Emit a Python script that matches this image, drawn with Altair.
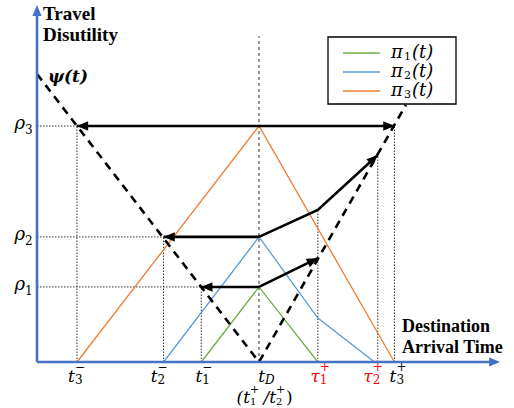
import math
import altair as alt
import pandas as pd

# ---------------- data (chart units) ----------------
tick_vals  = [1.8, 5.7, 7.4, 10.0, 12.65, 15.35, 16.1]     # t3-, t2-, t1-, tD, tau1+, tau2+, t3+
tick_base  = ["t", "t", "t", "t", "τ", "τ", "t"]
tick_sub   = ["3", "2", "1", "D", "1", "2", "3"]
tick_sup   = ["−", "−", "−", "", "+", "+", "+"]
tick_color = ["#000000", "#000000", "#000000", "#000000", "#FF0000", "#FF0000", "#000000"]

rho_sub  = ["1", "2", "3"]
rho_vals = [3.18, 5.3, 10.0]

pi_names = ["π₁(t)", "π₂(t)", "π₃(t)"]
pi_subs  = ["1", "2", "3"]
pi1_t = [7.4, 10.0, 12.65];        pi1_v = [0.0, 3.18, 0.0]
pi2_t = [5.7, 10.0, 12.65, 15.2];  pi2_v = [0.0, 5.3, 1.86, 0.0]
pi3_t = [1.8, 10.0, 16.1];         pi3_v = [0.0, 10.0, 0.0]

psi_t = [0.0, 10.0, 16.62]
psi_v = [12.2, 0.0, 10.9]

# shift arrows
arr_rho3_t  = [1.8, 16.1];          arr_rho3_v  = [10.0, 10.0]
arr_rho2L_t = [10.0, 5.7];          arr_rho2L_v = [5.3, 5.3]
arr_rho2R_t = [10.0, 12.65, 15.35]; arr_rho2R_v = [5.3, 6.44, 8.77]
arr_rho1L_t = [10.0, 7.4];          arr_rho1L_v = [3.18, 3.18]
arr_rho1R_t = [10.0, 12.65];        arr_rho1R_v = [3.18, 4.4]

axis_x_end = 20.86
axis_y_end = 15.13
tD_top = 13.8

# ---------------- layout / style ----------------
W, H = 514, 408
X_DOM = [-1.667, 21.486]
Y_DOM = [-1.949, 15.339]
KX = W / (X_DOM[1] - X_DOM[0])
KY = H / (Y_DOM[1] - Y_DOM[0])

GREEN, BLUE, ORANGE = "#70AD47", "#5B9BD5", "#ED7D31"
AXIS = "#4472C4"
MATH = "DejaVu Serif"
SERIF = "Liberation Serif"
HEAD = "M0,0L-0.42,1L0.42,1Z"

xs = alt.Scale(domain=X_DOM, nice=False, zero=False)
ys = alt.Scale(domain=Y_DOM, nice=False, zero=False)
X = lambda f="t": alt.X(f"{f}:Q", scale=xs, axis=None)
Y = lambda f="v": alt.Y(f"{f}:Q", scale=ys, axis=None)


def ang(t0, v0, t1, v1):
    sx = (t1 - t0) * KX
    sy = -(v1 - v0) * KY
    return math.degrees(math.atan2(sx, -sy)) % 360


# ---------------- guide lines ----------------
guides = pd.DataFrame({
    "t":  [0, 0, 0, tick_vals[0], tick_vals[1], tick_vals[2], tick_vals[4], tick_vals[5], tick_vals[6]],
    "v":  [rho_vals[2], rho_vals[1], rho_vals[0], 0, 0, 0, 0, 0, 0],
    "t2": [tick_vals[0], tick_vals[1], tick_vals[2], tick_vals[0], tick_vals[1], tick_vals[2],
           tick_vals[4], tick_vals[5], tick_vals[6]],
    "v2": [rho_vals[2], rho_vals[1], rho_vals[0], rho_vals[2], rho_vals[1], rho_vals[0],
           arr_rho2R_v[1], arr_rho2R_v[2], rho_vals[2]],
})
guide_layer = alt.Chart(guides).mark_rule(color="#333333", strokeWidth=1, strokeDash=[1.5, 1.5]).encode(
    x=X(), y=Y(), x2="t2:Q", y2="v2:Q")
td_layer = alt.Chart(pd.DataFrame({"t": [tick_vals[3]], "v": [0], "v2": [tD_top]})).mark_rule(
    color="#333333", strokeWidth=1, strokeDash=[3, 3]).encode(x=X(), y=Y(), y2="v2:Q")

# ---------------- pi lines ----------------
rows = []
for name, ts, vs in zip(pi_names, [pi1_t, pi2_t, pi3_t], [pi1_v, pi2_v, pi3_v]):
    for i, (a, b) in enumerate(zip(ts, vs)):
        rows.append({"s": name, "t": a, "v": b, "o": i})
pi_df = pd.DataFrame(rows)
pi_layer = alt.Chart(pi_df).mark_line(strokeWidth=1.3).encode(
    x=X(), y=Y(), order="o:Q",
    color=alt.Color("s:N", scale=alt.Scale(domain=pi_names, range=[GREEN, BLUE, ORANGE]), legend=None))

# ---------------- psi ----------------
psi_df = pd.DataFrame({"t": psi_t, "v": psi_v, "o": list(range(len(psi_t)))})
psi_layer = alt.Chart(psi_df).mark_line(color="black", strokeWidth=2.6, strokeDash=[8, 6]).encode(
    x=X(), y=Y(), order="o:Q")

# ---------------- arrows ----------------
paths = [(arr_rho3_t, arr_rho3_v), (arr_rho2L_t, arr_rho2L_v), (arr_rho2R_t, arr_rho2R_v),
         (arr_rho1L_t, arr_rho1L_v), (arr_rho1R_t, arr_rho1R_v)]
rows, heads = [], []
for k, (ts, vs) in enumerate(paths):
    for i, (a, b) in enumerate(zip(ts, vs)):
        rows.append({"p": k, "t": a, "v": b, "o": i})
    heads.append({"t": ts[-1], "v": vs[-1], "a": ang(ts[-2], vs[-2], ts[-1], vs[-1])})
heads.append({"t": arr_rho3_t[0], "v": arr_rho3_v[0], "a": ang(arr_rho3_t[1], arr_rho3_v[1], arr_rho3_t[0], arr_rho3_v[0])})
arrow_layer = alt.Chart(pd.DataFrame(rows)).mark_line(color="black", strokeWidth=2.6).encode(
    x=X(), y=Y(), detail="p:N", order="o:Q")
head_layer = alt.Chart(pd.DataFrame(heads)).mark_point(
    shape=HEAD, filled=True, size=500, color="black", opacity=1, strokeWidth=0).encode(
    x=X(), y=Y(), angle=alt.Angle("a:Q", scale=None))

# ---------------- axes ----------------
axes_df = pd.DataFrame({"t": [0, 0], "v": [0, 0], "t2": [axis_x_end - 0.3, 0], "v2": [0, axis_y_end - 0.3]})
axes_layer = alt.Chart(axes_df).mark_rule(color=AXIS, strokeWidth=2.6).encode(
    x=X(), y=Y(), x2="t2:Q", y2="v2:Q")
axes_heads = pd.DataFrame({"t": [axis_x_end, 0], "v": [0, axis_y_end], "a": [90, 0]})
axes_head_layer = alt.Chart(axes_heads).mark_point(
    shape=HEAD, filled=True, size=480, color=AXIS, opacity=1, strokeWidth=0).encode(
    x=X(), y=Y(), angle=alt.Angle("a:Q", scale=None))

# ---------------- tick labels ----------------
label_dx = [-2, -6, 1, 6, 2, -5, 2]
label_layers = []
for i in range(len(tick_vals)):
    d = pd.DataFrame({"t": [tick_vals[i]], "b": [tick_base[i]], "s": [tick_sub[i]], "p": [tick_sup[i]]})
    c = tick_color[i]
    label_layers.append(alt.Chart(d).mark_text(
        align="right", baseline="alphabetic", dx=label_dx[i], font=MATH, fontStyle="italic",
        fontSize=17, color=c).encode(x=X(), y=alt.value(382), text="b:N"))
    label_layers.append(alt.Chart(d).mark_text(
        align="left", baseline="middle", dx=label_dx[i], font=MATH,
        fontStyle="italic" if tick_sub[i].isalpha() else "normal",
        fontSize=12, color=c).encode(x=X(), y=alt.value(380), text="s:N"))
    if tick_sup[i]:
        label_layers.append(alt.Chart(d).mark_text(
            align="left", baseline="middle", dx=label_dx[i], font=MATH, fontSize=12,
            color=c).encode(x=X(), y=alt.value(367), text="p:N"))

# (t1+/t2+) under tD
td = pd.DataFrame({"t": [tick_vals[3]]})
paren_parts = [("(t", "right", -9, 17, "alphabetic", 403, "italic"),
               ("1", "left", -9, 10, "middle", 402, "normal"),
               ("+", "left", -9, 11, "middle", 390, "normal"),
               ("/t", "right", 17, 17, "alphabetic", 403, "italic"),
               ("2", "left", 17, 10, "middle", 402, "normal"),
               ("+", "left", 17, 11, "middle", 390, "normal"),
               (")", "left", 27, 17, "alphabetic", 403, "normal")]
for txt, al, dx, fs, bl, yy, st in paren_parts:
    label_layers.append(alt.Chart(td).mark_text(
        text=txt, align=al, dx=dx, fontSize=fs, baseline=bl, font=MATH, fontStyle=st, color="black"
    ).encode(x=X(), y=alt.value(yy)))

# rho labels
rho_df = pd.DataFrame({"v": rho_vals, "s": rho_sub})
rho_base = alt.Chart(rho_df).mark_text(
    text="ρ", align="right", baseline="alphabetic", dy=3, font=MATH, fontStyle="italic",
    fontSize=18, color="black").encode(x=alt.value(25), y=Y())
rho_s = alt.Chart(rho_df).mark_text(
    align="left", baseline="middle", dy=4, font=MATH, fontSize=12, color="black").encode(
    x=alt.value(25), y=Y(), text="s:N")

# ---------------- titles ----------------
def label(txt, x, y, size, font=SERIF, weight="bold", style="normal", al="left", bl="alphabetic"):
    return alt.Chart(pd.DataFrame({"k": [0]})).mark_text(
        text=txt, align=al, baseline=bl, font=font, fontSize=size, fontWeight=weight,
        fontStyle=style, color="black").encode(x=alt.value(x), y=alt.value(y))

titles = [
    label("Travel", 43, 20, 19),
    label("Disutility", 43, 41, 19),
    label("Destination", 402, 332, 18),
    label("Arrival Time", 402, 353, 18),
    label("ψ(t)", 48, 82, 17, font=MATH, style="italic"),
]

# ---------------- legend ----------------
leg_box = alt.Chart(pd.DataFrame({"k": [0]})).mark_rect(
    fill="white", stroke="black", strokeWidth=1.3).encode(
    x=alt.value(328), x2=alt.value(456), y=alt.value(37), y2=alt.value(104))
leg_y = [53, 72, 91]
leg_df = pd.DataFrame({"s": pi_names, "sub": pi_subs, "yy": leg_y})
leg_lines = alt.Chart(leg_df).mark_rule(strokeWidth=1.3).encode(
    x=alt.value(343), x2=alt.value(380), y=alt.Y("yy:Q", scale=None),
    color=alt.Color("s:N", scale=alt.Scale(domain=pi_names, range=[GREEN, BLUE, ORANGE]), legend=None))
leg_pi = alt.Chart(leg_df).mark_text(
    text="π", align="left", baseline="alphabetic", dy=5, font=MATH, fontStyle="italic", fontSize=18,
    color="black").encode(x=alt.value(391), y=alt.Y("yy:Q", scale=None))
leg_sub = alt.Chart(leg_df).mark_text(
    align="left", baseline="middle", dy=4, font=MATH, fontSize=11, color="black").encode(
    x=alt.value(404), y=alt.Y("yy:Q", scale=None), text="sub:N")
leg_arg = alt.Chart(leg_df).mark_text(
    text="(t)", align="left", baseline="alphabetic", dy=5, font=MATH, fontStyle="italic", fontSize=18,
    color="black").encode(x=alt.value(412), y=alt.Y("yy:Q", scale=None))

chart = alt.layer(
    guide_layer, td_layer, pi_layer, psi_layer, arrow_layer, head_layer,
    axes_layer, axes_head_layer, leg_box, leg_lines, leg_pi, leg_sub, leg_arg,
    rho_base, rho_s, *label_layers, *titles
).resolve_scale(color="independent").properties(
    width=W, height=H, padding=0, autosize="none", background="white"
).configure_view(stroke=None)

chart.save("out.html", embed_options={"renderer": "svg", "actions": False})
